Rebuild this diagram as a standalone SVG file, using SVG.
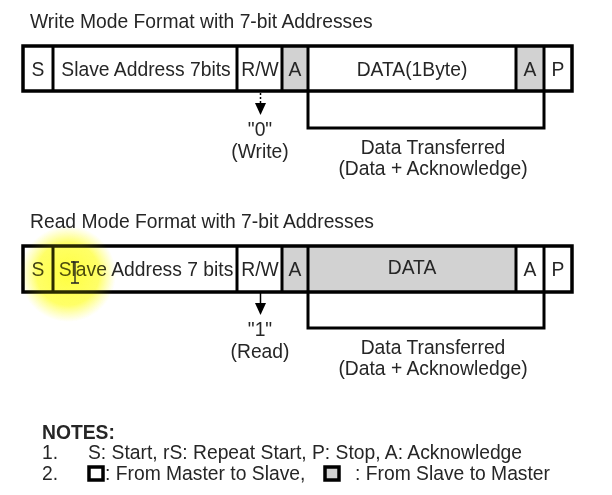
<svg xmlns="http://www.w3.org/2000/svg" width="612" height="495" viewBox="0 0 612 495">
<defs>
<style>
text{font-family:"Liberation Sans",Arial,sans-serif;font-size:19.3px;fill:#262626}
.c{text-anchor:middle}
.frame{fill:none;stroke:#000;stroke-width:3.5}
.div{stroke:#000;stroke-width:3}
.gray{fill:#d2d2d2}
.br{fill:none;stroke:#000;stroke-width:3}
.dash{stroke:#000;stroke-width:1.5;stroke-dasharray:2 2}
</style>
<radialGradient id="hl" cx="0.5" cy="0.5" r="0.5">
<stop offset="0" stop-color="#ffff30" stop-opacity="0.85"/>
<stop offset="0.65" stop-color="#ffff40" stop-opacity="0.7"/>
<stop offset="1" stop-color="#ffff80" stop-opacity="0"/>
</radialGradient>
<radialGradient id="hl2" cx="0.5" cy="0.5" r="0.5">
<stop offset="0" stop-color="#ffff00" stop-opacity="0.2"/>
<stop offset="0.65" stop-color="#ffff00" stop-opacity="0.15"/>
<stop offset="1" stop-color="#ffff00" stop-opacity="0"/>
</radialGradient>
</defs>
<rect width="612" height="495" fill="#fff"/>

<text x="30" y="28">Write Mode Format with 7-bit Addresses</text>
<g id="write-frame">
<rect class="gray" x="282" y="46" width="26" height="45"/>
<rect class="gray" x="516" y="46" width="28" height="45"/>
<rect class="frame" x="23" y="46" width="549" height="45"/>
<line class="div" x1="53" y1="46" x2="53" y2="91"/>
<line class="div" x1="237" y1="46" x2="237" y2="91"/>
<line class="div" x1="282" y1="46" x2="282" y2="91"/>
<line class="div" x1="308" y1="46" x2="308" y2="91"/>
<line class="div" x1="516" y1="46" x2="516" y2="91"/>
<line class="div" x1="544" y1="46" x2="544" y2="91"/>
<text class="c" x="38" y="76">S</text>
<text class="c" x="146" y="76">Slave Address 7bits</text>
<text class="c" x="260" y="76">R/W</text>
<text class="c" x="295" y="76">A</text>
<text class="c" x="412" y="76">DATA(1Byte)</text>
<text class="c" x="530" y="76">A</text>
<text class="c" x="558" y="76">P</text>
</g>

<text x="30" y="228">Read Mode Format with 7-bit Addresses</text>
<g id="read-frame">
<rect class="gray" x="282" y="246" width="234" height="46"/>
<rect class="frame" x="23" y="246" width="549" height="46"/>
<line class="div" x1="53" y1="246" x2="53" y2="292"/>
<line class="div" x1="237" y1="246" x2="237" y2="292"/>
<line class="div" x1="282" y1="246" x2="282" y2="292"/>
<line class="div" x1="308" y1="246" x2="308" y2="292"/>
<line class="div" x1="516" y1="246" x2="516" y2="292"/>
<line class="div" x1="544" y1="246" x2="544" y2="292"/>
<text class="c" x="38" y="276">S</text>
<text class="c" x="146" y="276">Slave Address 7 bits</text>
<text class="c" x="260" y="276">R/W</text>
<text class="c" x="295" y="276">A</text>
<text class="c" x="412" y="274">DATA</text>
<text class="c" x="530" y="276">A</text>
<text class="c" x="558" y="276">P</text>
</g>

<g id="connectors">
<line class="dash" x1="260.5" y1="93" x2="260.5" y2="103"/>
<polygon points="255,103 266,103 260.5,115" fill="#000"/>
<path class="br" d="M308,91 V128 H544 V91"/>
<line x1="260.5" y1="293" x2="260.5" y2="303" stroke="#000" stroke-width="1.5"/>
<polygon points="255,303 266,303 260.5,315" fill="#000"/>
<path class="br" d="M308,292 V328 H544 V292"/>
</g>

<g id="labels">
<text class="c" x="260" y="136">"0"</text>
<text class="c" x="260" y="158">(Write)</text>
<text class="c" x="433" y="154">Data Transferred</text>
<text class="c" x="433" y="175">(Data + Acknowledge)</text>
<text class="c" x="260" y="336">"1"</text>
<text class="c" x="260" y="358">(Read)</text>
<text class="c" x="433" y="354">Data Transferred</text>
<text class="c" x="433" y="375">(Data + Acknowledge)</text>
</g>

<g id="notes">
<text x="42" y="439" style="font-weight:bold">NOTES:</text>
<text x="42" y="459">1.</text>
<text x="88" y="459">S: Start, rS: Repeat Start, P: Stop, A: Acknowledge</text>
<text x="42" y="480">2.</text>
<rect x="89" y="467" width="14" height="13" fill="#fff" stroke="#000" stroke-width="3.5"/>
<text x="105" y="480">: From Master to Slave,</text>
<rect x="325" y="467" width="14" height="13" fill="#d2d2d2" stroke="#000" stroke-width="3.5"/>
<text x="355" y="480">: From Slave to Master</text>
</g>

<circle cx="68" cy="274" r="48" fill="url(#hl)" style="mix-blend-mode:multiply"/>
<circle cx="68" cy="274" r="48" fill="url(#hl2)"/>
<path d="M71,262 H79 M75,262 V283 M71,283 H79" fill="none" stroke="#222" stroke-width="1.3"/>
</svg>
